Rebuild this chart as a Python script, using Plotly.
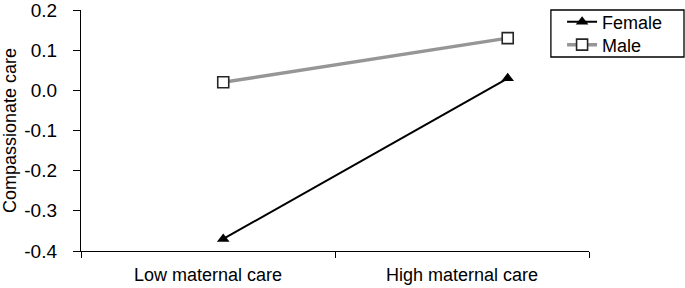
import plotly.graph_objects as go

categories = ["Low maternal care", "High maternal care"]
cat_positions = [0.5, 1.5]
point_positions = [0.56, 1.68]
female = [-0.37, 0.03]
male = [0.02, 0.13]
y_ticks = [-0.4, -0.3, -0.2, -0.1, 0.0, 0.1, 0.2]
y_tick_text = ["-0.4", "-0.3", "-0.2", "-0.1", "0.0", "0.1", "0.2"]

FONT = "Liberation Sans, Arial, sans-serif"

fig = go.Figure()
fig.add_trace(go.Scatter(
    x=point_positions, y=female, name="Female", mode="lines+markers",
    line=dict(color="black", width=2),
    marker=dict(symbol="triangle-up", size=11, color="black"),
    legend="legend",
))
fig.add_trace(go.Scatter(
    x=point_positions, y=male, name="Male", mode="lines+markers",
    line=dict(color="#969696", width=3.5),
    marker=dict(symbol="square", size=11, color="white",
                line=dict(color="#262626", width=1.6)),
    legend="legend2",
))
# invisible trace for the label axis
fig.add_trace(go.Scatter(x=cat_positions, y=[None, None], xaxis="x2",
                         showlegend=False, hoverinfo="skip"))

legend_common = dict(xanchor="left", yanchor="middle", borderwidth=0,
                     bgcolor="rgba(0,0,0,0)",
                     font=dict(family=FONT, size=18, color="black"),
                     itemwidth=30)

fig.update_layout(
    width=685, height=288,
    margin=dict(l=81, r=96, t=10, b=37, autoexpand=False),
    paper_bgcolor="white", plot_bgcolor="white",
    font=dict(family=FONT, size=18, color="black"),
    xaxis=dict(range=[0, 2], tickvals=[0, 1, 2], showticklabels=False,
               ticks="outside", ticklen=6, tickcolor="black", tickwidth=1.3,
               showline=True, linecolor="black", linewidth=1.3,
               showgrid=False, zeroline=False, automargin=False),
    xaxis2=dict(range=[0, 2], overlaying="x", side="bottom",
                tickvals=cat_positions, ticktext=categories, ticks="",
                showline=False, showgrid=False, zeroline=False,
                ticklabelstandoff=11, automargin=False,
                ticklabeloverflow="allow",
                tickfont=dict(family=FONT, size=18, color="black")),
    yaxis=dict(range=[-0.4, 0.2], tickvals=y_ticks, ticktext=y_tick_text,
               ticks="outside", ticklen=7, tickcolor="black", tickwidth=1.3,
               showline=True, linecolor="black", linewidth=1.3,
               showgrid=False, zeroline=False, ticklabelstandoff=12,
               automargin=False, ticklabeloverflow="allow",
               tickfont=dict(family=FONT, size=19, color="black"),
               title=dict(text="Compassionate care", standoff=4,
                          font=dict(family=FONT, size=18, color="black"))),
    legend=dict(x=0.947, y=0.950, **legend_common),
    legend2=dict(x=0.947, y=0.855, **legend_common),
    shapes=[dict(type="rect", xref="paper", yref="paper",
                 x0=0.925, x1=1.187, y0=0.805, y1=1.0,
                 line=dict(color="black", width=1.3),
                 fillcolor="rgba(0,0,0,0)", layer="below")],
    showlegend=True,
)

fig.write_html("out.html", config={"displayModeBar": False},
               post_script="document.body.style.margin='0';document.body.style.overflow='hidden';")
